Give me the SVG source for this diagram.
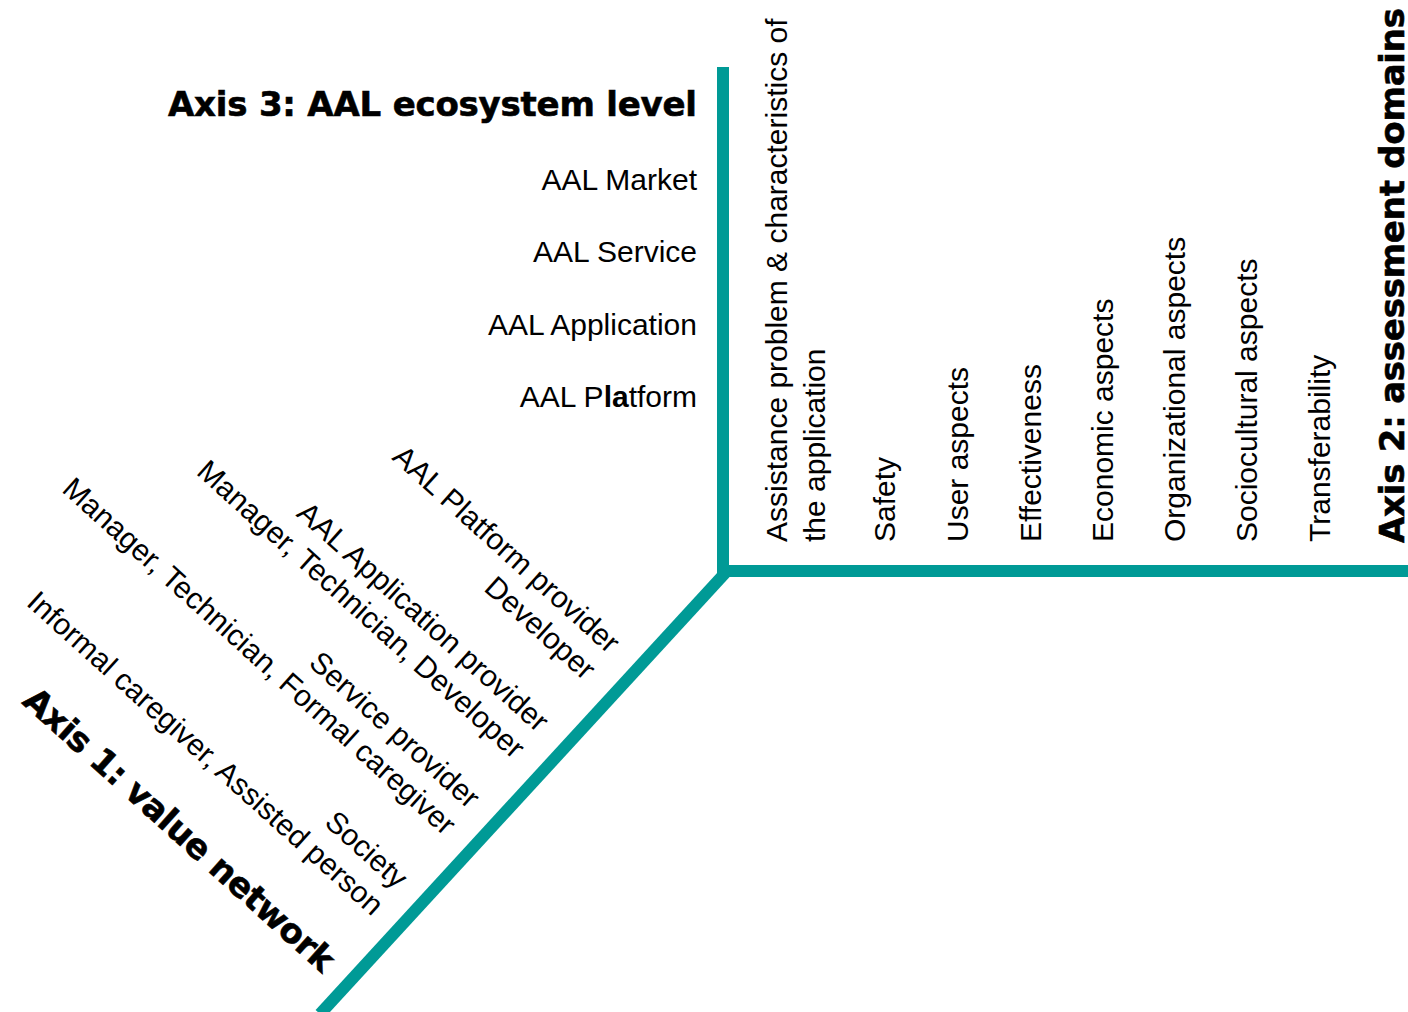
<svg xmlns="http://www.w3.org/2000/svg" width="1408" height="1012" viewBox="0 0 1408 1012">
<style>
.ax{fill:none;stroke:#009A96;stroke-width:12;stroke-linecap:butt}
.lbl{font-family:"Liberation Sans",Arial,sans-serif;font-size:30px;fill:#000}
.ttl{font-family:"DejaVu Sans","Liberation Sans",sans-serif;font-size:34px;font-weight:bold;fill:#000;stroke:#000;stroke-width:0.6}
</style>
<rect width="1408" height="1012" fill="#fff"/>
<g id="connectors">
<polyline class="ax" points="723,67 723,571 1408,571"/>
<line class="ax" x1="727" y1="571" x2="320" y2="1014"/>
</g>
<g id="axis3">
<text class="ttl" x="168" y="116" textLength="529" lengthAdjust="spacing">Axis 3: AAL ecosystem level</text>
<g id="axis3-items" class="lbl" text-anchor="end">
<text class="lbl" x="697" y="190">AAL Market</text>
<text class="lbl" x="697" y="262">AAL Service</text>
<text class="lbl" x="697" y="335">AAL Application</text>
<text class="lbl" x="697" y="407">AAL P<tspan font-weight="bold">la</tspan>tform</text>
</g>
</g>
<g id="axis2">
<text class="lbl" transform="translate(787,542) rotate(-90)">Assistance problem &amp; characteristics of</text>
<text class="lbl" transform="translate(825,542) rotate(-90)">the application</text>
<text class="lbl" transform="translate(895,542) rotate(-90)">Safety</text>
<text class="lbl" transform="translate(968,542) rotate(-90)">User aspects</text>
<text class="lbl" transform="translate(1041,542) rotate(-90)">Effectiveness</text>
<text class="lbl" transform="translate(1113,542) rotate(-90)">Economic aspects</text>
<text class="lbl" transform="translate(1185,542) rotate(-90)">Organizational aspects</text>
<text class="lbl" transform="translate(1257,542) rotate(-90)">Sociocultural aspects</text>
<text class="lbl" transform="translate(1330,542) rotate(-90)">Transferability</text>
<text class="ttl" transform="translate(1404,543) rotate(-90)" textLength="535" lengthAdjust="spacing">Axis 2: assessment domains</text>
</g>
<g id="axis1" transform="translate(723,572) rotate(42)">
<g text-anchor="end">
<text class="lbl" x="-30" y="138">AAL Platform provider</text>
<text class="lbl" x="-30" y="174">Developer</text>
<text class="lbl" x="-30" y="244">AAL Application provider</text>
<text class="lbl" x="-30" y="280">Manager, Technician, Developer</text>
<text class="lbl" x="-30" y="347">Service provider</text>
<text class="lbl" x="-30" y="383">Manager, Technician, Formal caregiver</text>
<text class="lbl" x="-30" y="455">Society</text>
<text class="lbl" x="-30" y="491">Informal caregiver, Assisted person</text>
</g>
<text class="ttl" x="-434" y="567" textLength="405" lengthAdjust="spacing">Axis 1: value network</text>
</g>
</svg>
